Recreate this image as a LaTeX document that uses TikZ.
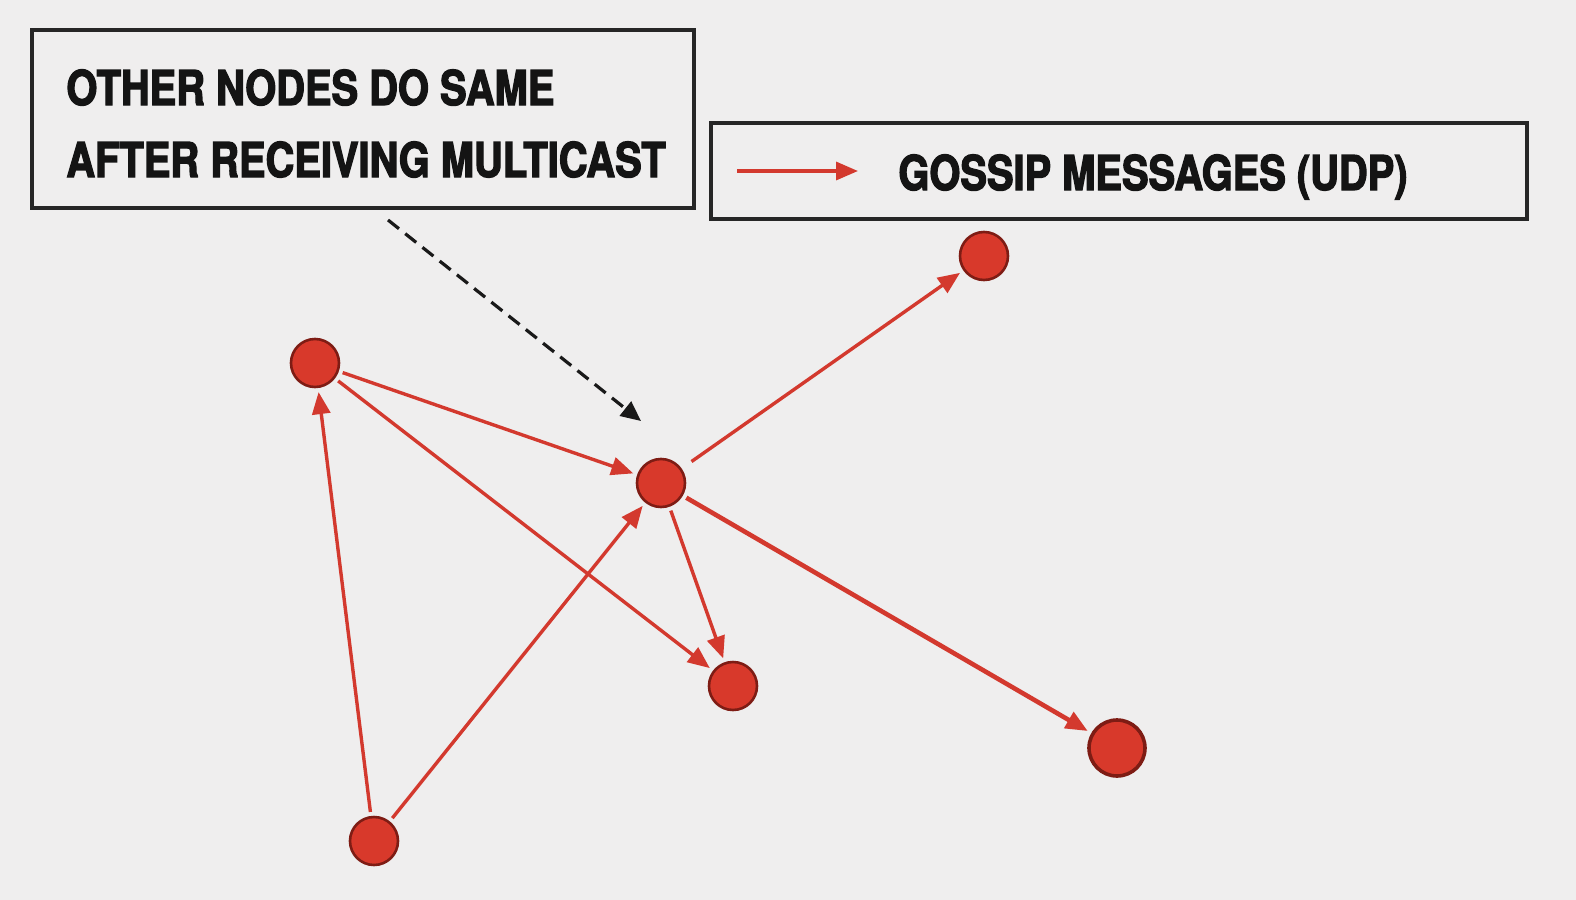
\documentclass[tikz,border=0pt]{standalone}
\usepackage{fontspec}
\usetikzlibrary{arrows.meta}
\newfontfamily\labfont[FakeStretch=0.83,FakeBold=2.6]{TeX Gyre Heros Bold}
\definecolor{bgc}{HTML}{EFEEEE}
\definecolor{nodered}{HTML}{D8392B}
\definecolor{nodedark}{HTML}{7E1C14}
\definecolor{edgered}{HTML}{D3392E}
\tikzset{
  dot/.style={circle, fill=nodered, draw=nodedark, line width=1.3pt, minimum size=24pt, inner sep=0pt},
  bigdot/.style={dot, minimum size=28pt, line width=1.8pt},
  boxframe/.style={draw=black!85, line width=1.6pt, inner sep=0pt},
  lbl/.style={anchor=base west, inner sep=0pt, font=\labfont\fontsize{24}{28}\selectfont, text=black!92},
  gossip/.style={draw=edgered, line width=1.7pt, -{Triangle[length=11pt,width=9pt]}, shorten >=2pt, shorten <=2pt},
  gossipthick/.style={gossip, line width=2.3pt},
  hint/.style={draw=black!90, line width=1.6pt, dash pattern=on 7pt off 4pt, -{Triangle[length=10pt,width=9pt]}}
}
\begin{document}
\begin{tikzpicture}[x=0.5pt, y=-0.5pt]
\fill[bgc] (0,0) rectangle (1576,900);
\useasboundingbox (0,0) rectangle (1576,900);
% boxes
\node[boxframe, minimum width=331pt, minimum height=89pt] (box1) at (363,119) {};
\node[lbl] (t1) at (66,105) {OTHER NODES DO SAME};
\node[lbl] (t2) at (66,177) {AFTER RECEIVING MULTICAST};
\node[boxframe, minimum width=408pt, minimum height=48pt] (box2) at (1119,171) {};
\node[lbl] (t3) at (898,190) {GOSSIP MESSAGES (UDP)};
\coordinate (la) at (737,171);
\coordinate (lb) at (858,171);
\draw[gossip, shorten >=0pt, shorten <=0pt] (la) -- (lb);
% nodes
\node[dot] (A) at (315,363) {};
\node[dot] (B) at (661,483) {};
\node[dot] (C) at (984,256) {};
\node[dot] (D) at (733,686) {};
\node[bigdot] (E) at (1117,748) {};
\node[dot] (F) at (374,841) {};
% edges
\draw[gossip] (A) -- (B);
\draw[gossip] (A) -- (D);
\draw[gossip] (F) -- (A);
\draw[gossip] (F) -- (B);
\draw[gossip, shorten <=6pt] (B) -- (C);
\draw[gossip] (B) -- (D);
\draw[gossipthick] (B) -- (E);
% dashed hint
\coordinate (hs) at (388,220);
\coordinate (he) at (641,421);
\draw[hint] (hs) -- (he);
\end{tikzpicture}
\end{document}
